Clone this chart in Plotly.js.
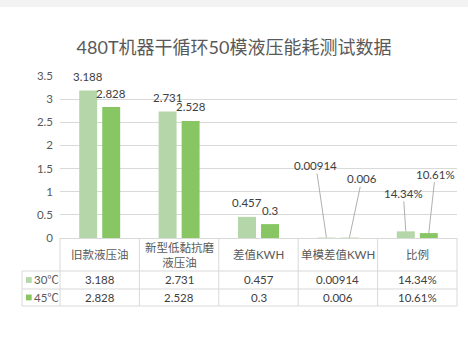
<!DOCTYPE html>
<html>
<head>
<meta charset="utf-8">
<script src="https://cdn.plot.ly/plotly-3.0.1.min.js"></script>
<style>
  html, body { margin: 0; padding: 0; background: #ffffff; }
  #chart { width: 468px; height: 337px; }
</style>
</head>
<body>
<div id="chart"></div>
<script>
// Hydraulic energy use per 50-mould dry cycle on the 480T machine
const categories = ['旧款液压油', '新型低黏抗磨液压油', '差值KWH', '单模差值KWH', '比例'];
const seriesNames = ['30℃', '45℃'];
const values30 = [3.188, 2.731, 0.457, 0.00914, 0.1434];
const values45 = [2.828, 2.528, 0.3, 0.006, 0.1061];
const percentCategory = '比例';
const yTicks = [0, 0.5, 1, 1.5, 2, 2.5, 3, 3.5];

const colors = ['#B5D6A9', '#88C664'];
const FONT = "Lato, 'Noto Sans CJK SC', sans-serif";
const TEXT_DARK = '#404040';
const TEXT_MID = '#595959';
const GRID = '#D9D9D9';

function fmt(cat, v) {
  return cat === percentCategory ? (v * 100).toFixed(2) + '%' : String(v);
}
function wrapLabel(s) {
  return s.length > 8 ? s.slice(0, 6) + '<br>' + s.slice(6) : s;
}

const series = [values30, values45];
const traces = series.map((vals, k) => ({
  type: 'bar',
  name: seriesNames[k],
  x: categories,
  y: vals,
  marker: { color: colors[k] },
  hoverinfo: 'skip',
  showlegend: false
}));

const annotations = [];
const shapes = [];
const barShift = [-11.5, 11.5];

// value labels: plain above the bar for large values, with leader lines for tiny ones
const leader = {
  '单模差值KWH': [[-10.5, -72], [12.5, -59]],
  '比例': [[-2.5, -38], [6.5, -59]]
};
categories.forEach((cat, i) => {
  series.forEach((vals, k) => {
    const base = {
      x: cat, y: vals[i], xref: 'x', yref: 'y',
      text: fmt(cat, vals[i]),
      font: { family: FONT, size: 11.5, color: TEXT_DARK },
      xshift: barShift[k]
    };
    if (leader[cat]) {
      annotations.push(Object.assign(base, {
        showarrow: true, arrowhead: 0, arrowwidth: 0.9, arrowcolor: '#A6A6A6',
        ax: leader[cat][k][0], ay: leader[cat][k][1], standoff: 0
      }));
    } else {
      annotations.push(Object.assign(base, {
        showarrow: false, yanchor: 'middle', yshift: 14
      }));
    }
  });
});

// data table under the plot: header row + one row per series
const rowHeader = -0.102, rowY = [-0.259, -0.367];
const lineY = [0, -0.2037, -0.3148, -0.4198];
const tableLeft = -0.0957;

categories.forEach((cat, i) => {
  annotations.push({
    x: cat, y: rowHeader, xref: 'x', yref: 'paper', showarrow: false,
    text: wrapLabel(cat), yanchor: 'middle',
    font: { family: FONT, size: 11.5, color: TEXT_MID }
  });
  series.forEach((vals, k) => {
    annotations.push({
      x: cat, y: rowY[k], xref: 'x', yref: 'paper', showarrow: false,
      text: fmt(cat, vals[i]), yanchor: 'middle',
      font: { family: FONT, size: 11.5, color: TEXT_DARK }
    });
  });
});

// legend keys inside the table's first column
seriesNames.forEach((name, k) => {
  shapes.push({
    type: 'rect', xref: 'paper', yref: 'paper',
    x0: -0.0856, x1: -0.0713,
    y0: rowY[k] - 0.018, y1: rowY[k] + 0.018,
    fillcolor: colors[k], line: { width: 0 }
  });
  annotations.push({
    x: -0.0705, y: rowY[k], xref: 'paper', yref: 'paper', showarrow: false,
    xanchor: 'left', yanchor: 'middle', text: name,
    font: { family: FONT, size: 11.5, color: TEXT_MID }
  });
});

// table grid
const lineStyle = { color: GRID, width: 1 };
[1, 2, 3].forEach(j => {
  shapes.push({ type: 'line', xref: 'paper', yref: 'paper',
    x0: tableLeft, x1: 1, y0: lineY[j], y1: lineY[j], line: lineStyle });
});
for (let b = 0; b < categories.length - 1; b++) {
  shapes.push({ type: 'line', xref: 'x', yref: 'paper',
    x0: b + 0.5, x1: b + 0.5, y0: lineY[0], y1: lineY[3], line: lineStyle });
}
[0, 1].forEach(px => {
  shapes.push({ type: 'line', xref: 'paper', yref: 'paper',
    x0: px, x1: px, y0: lineY[0], y1: lineY[3], line: lineStyle });
});
shapes.push({ type: 'line', xref: 'paper', yref: 'paper',
  x0: tableLeft, x1: tableLeft, y0: lineY[1], y1: lineY[3], line: lineStyle });

// faint band along the top edge
shapes.push({ type: 'rect', xref: 'paper', yref: 'paper',
  x0: -0.16, x1: 1.04, y0: 1.426, y1: 1.48,
  fillcolor: '#F3F3F3', line: { width: 0 }, layer: 'below' });

const layout = {
  width: 468, height: 337,
  margin: { l: 60, r: 11, t: 76, b: 99 },
  paper_bgcolor: '#ffffff', plot_bgcolor: '#ffffff',
  font: { family: FONT, color: TEXT_MID },
  title: {
    text: '480T机器干循环50模液压能耗测试数据',
    x: 0.5, xref: 'container', xanchor: 'center',
    y: 0.857, yref: 'container', yanchor: 'middle',
    font: { family: FONT, size: 18, color: TEXT_MID }
  },
  barmode: 'group', bargap: 0.42, bargroupgap: 0.22,
  xaxis: {
    type: 'category', range: [-0.5, 4.5], fixedrange: true,
    showticklabels: false, ticks: '', showgrid: false,
    showline: true, linecolor: GRID, linewidth: 1, zeroline: false
  },
  yaxis: {
    range: [0, 3.5], tickvals: yTicks, ticktext: yTicks.map(String),
    showgrid: true, gridcolor: GRID, gridwidth: 1, zeroline: false,
    showline: false, ticks: '', ticklabelstandoff: 6,
    tickfont: { family: FONT, size: 11.5, color: TEXT_MID }
  },
  annotations: annotations,
  shapes: shapes
};

Plotly.newPlot('chart', traces, layout, { staticPlot: true, displayModeBar: false });
</script>
</body>
</html>
